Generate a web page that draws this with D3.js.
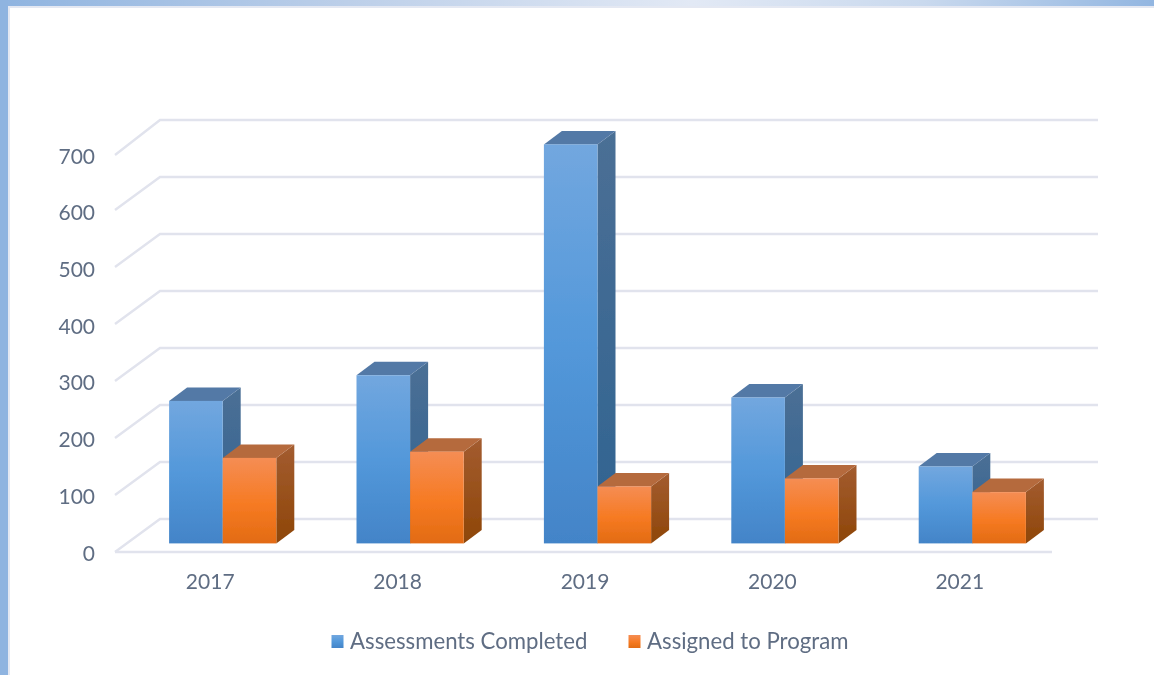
<!DOCTYPE html>
<html>
<head>
<meta charset="utf-8">
<script src="https://cdn.jsdelivr.net/npm/d3@7"></script>
<style>
  html, body { margin: 0; padding: 0; background: #fff; overflow: hidden; }
  svg { display: block; }
  text { font-family: Lato, "Open Sans", sans-serif; fill: #5f6d83; }
</style>
</head>
<body>
<div id="chart"></div>
<script>
const years = ['2017', '2018', '2019', '2020', '2021'];
const seriesNames = ['Assessments Completed', 'Assigned to Program'];
const assessments = [250, 295, 700, 256, 135];
const assigned = [150, 161, 100, 114, 90];
const yTicks = [0, 100, 200, 300, 400, 500, 600, 700];

const width = 1154;
const height = 675;

// front edge of the floor, then how far the back wall and the bars sit behind it
const floorLeft = 115;
const floorRight = 1052;
const floorY = 552;
const wall = { dx: 45, dy: 33 };
const barShift = { dx: 14, dy: 8.6 };
const barDepth = { dx: 18, dy: 13.5 };
const barWidth = 53.6;

const svg = d3.select('#chart').append('svg')
  .attr('width', width)
  .attr('height', height);

const defs = svg.append('defs');

// the reference is a slightly soft screenshot
defs.append('filter').attr('id', 'soft')
  .attr('filterUnits', 'userSpaceOnUse')
  .attr('x', 0).attr('y', 0).attr('width', width).attr('height', height)
  .append('feGaussianBlur').attr('stdDeviation', 0.45);

function addGradient(id, dir, stops) {
  const g = defs.append('linearGradient').attr('id', id)
    .attr('x1', 0).attr('y1', 0)
    .attr('x2', dir === 'x' ? 1 : 0).attr('y2', dir === 'x' ? 0 : 1);
  stops.forEach(([offset, color]) => g.append('stop').attr('offset', offset).attr('stop-color', color));
}

addGradient('bandTop', 'x', [[0, '#8fb4e0'], [0.3, '#bccfe9'], [0.6, '#e2e9f5'], [0.8, '#c9d9ee'], [1, '#92b6e1']]);
addGradient('blueFront', 'y', [[0, '#72a7df'], [0.5, '#5398da'], [1, '#4384c8']]);
addGradient('blueSide', 'y', [[0, '#4b6f95'], [1, '#2f6391']]);
addGradient('orangeFront', 'y', [[0, '#f58d54'], [0.55, '#f67a22'], [1, '#e26b13']]);
addGradient('orangeSide', 'y', [[0, '#a35c30'], [1, '#8e4608']]);

const root = svg.append('g').attr('filter', 'url(#soft)');

// window frame behind the chart
root.append('rect').attr('width', width).attr('height', height).attr('fill', '#fff');
root.append('rect').attr('width', width).attr('height', 6).attr('fill', 'url(#bandTop)');
root.append('rect').attr('width', 8).attr('height', height).attr('fill', '#8fb4e0');
root.append('rect').attr('x', 8).attr('y', 6).attr('width', width - 8).attr('height', 2).attr('fill', '#e4e8f2');
root.append('rect').attr('x', 8).attr('y', 6).attr('width', 2).attr('height', height - 6).attr('fill', '#e4e8f2');

// scales live on the front plane of the floor
const x = d3.scaleBand().domain(years).range([floorLeft, floorRight]);
const y = d3.scaleLinear().domain([0, 700]).range([floorY, floorY - 399]);
// the value labels step a touch tighter than the grid in the reference
const yLabels = d3.scaleLinear().domain([0, 700]).range([floorY, floorY - 397]);

const grid = root.append('g')
  .attr('fill', 'none')
  .attr('stroke', '#e1e3ed')
  .attr('stroke-width', 2.4);

grid.selectAll('path')
  .data(yTicks)
  .join('path')
  .attr('d', d => {
    const p = d3.path();
    p.moveTo(floorLeft, y(d) + (d === 700 ? 2 : 0));
    p.lineTo(floorLeft + wall.dx, y(d) - wall.dy);
    p.lineTo(floorRight + wall.dx + 1, y(d) - wall.dy);
    return p.toString();
  });

grid.append('line')
  .attr('x1', floorLeft).attr('y1', floorY)
  .attr('x2', floorRight).attr('y2', floorY);

// axes, only their labels are kept
const yAxis = root.append('g')
  .attr('transform', `translate(${floorLeft - 12},0.5)`)
  .call(d3.axisLeft(yLabels).tickValues(yTicks).tickSize(0).tickPadding(8));
yAxis.select('.domain').remove();
yAxis.selectAll('text')
  .attr('font-size', 21)
  .attr('dy', '0.36em')
  .style('font-family', null);

const xAxis = root.append('g')
  .attr('transform', `translate(1.5,${floorY + 22.5})`)
  .call(d3.axisBottom(x).tickSize(0).tickPadding(0));
xAxis.select('.domain').remove();
xAxis.selectAll('text')
  .attr('font-size', 21)
  .attr('dy', '0.71em')
  .style('font-family', null);

const series = [
  { name: seriesNames[0], values: assessments, offset: -1, front: 'url(#blueFront)', side: 'url(#blueSide)', top: '#5379a6' },
  { name: seriesNames[1], values: assigned, offset: 0, front: 'url(#orangeFront)', side: 'url(#orangeSide)', top: '#b56a3e' },
];

// blue first, so the orange box covers the blue side face
series.forEach(s => {
  const g = root.append('g');
  const bars = g.selectAll('g')
    .data(years.map((year, i) => ({ year, value: s.values[i] })))
    .join('g')
    .attr('transform', d => `translate(${x(d.year) + x.bandwidth() / 2 + barShift.dx + s.offset * barWidth},${-barShift.dy})`);

  bars.append('path')
    .attr('fill', s.side)
    .attr('d', d => `M${barWidth},${y(d.value)}l${barDepth.dx},${-barDepth.dy}V${y(0) - barDepth.dy}l${-barDepth.dx},${barDepth.dy}Z`);

  bars.append('path')
    .attr('fill', s.top)
    .attr('d', d => `M0,${y(d.value)}l${barDepth.dx},${-barDepth.dy}h${barWidth}l${-barDepth.dx},${barDepth.dy}Z`);

  bars.append('rect')
    .attr('y', d => y(d.value))
    .attr('width', barWidth)
    .attr('height', d => y(0) - y(d.value))
    .attr('fill', s.front);
});

// legend
const legendItems = [
  { name: seriesNames[0], fill: 'url(#blueFront)', x: 331 },
  { name: seriesNames[1], fill: 'url(#orangeFront)', x: 628 },
];
const legend = root.append('g');
legend.selectAll('rect')
  .data(legendItems)
  .join('rect')
  .attr('x', d => d.x + 0.5)
  .attr('y', 635)
  .attr('width', 12)
  .attr('height', 13)
  .attr('fill', d => d.fill);
legend.selectAll('text')
  .data(legendItems)
  .join('text')
  .attr('x', d => d.x + 19)
  .attr('y', 649)
  .attr('font-size', 22.2)
  .text(d => d.name);
</script>
</body>
</html>
